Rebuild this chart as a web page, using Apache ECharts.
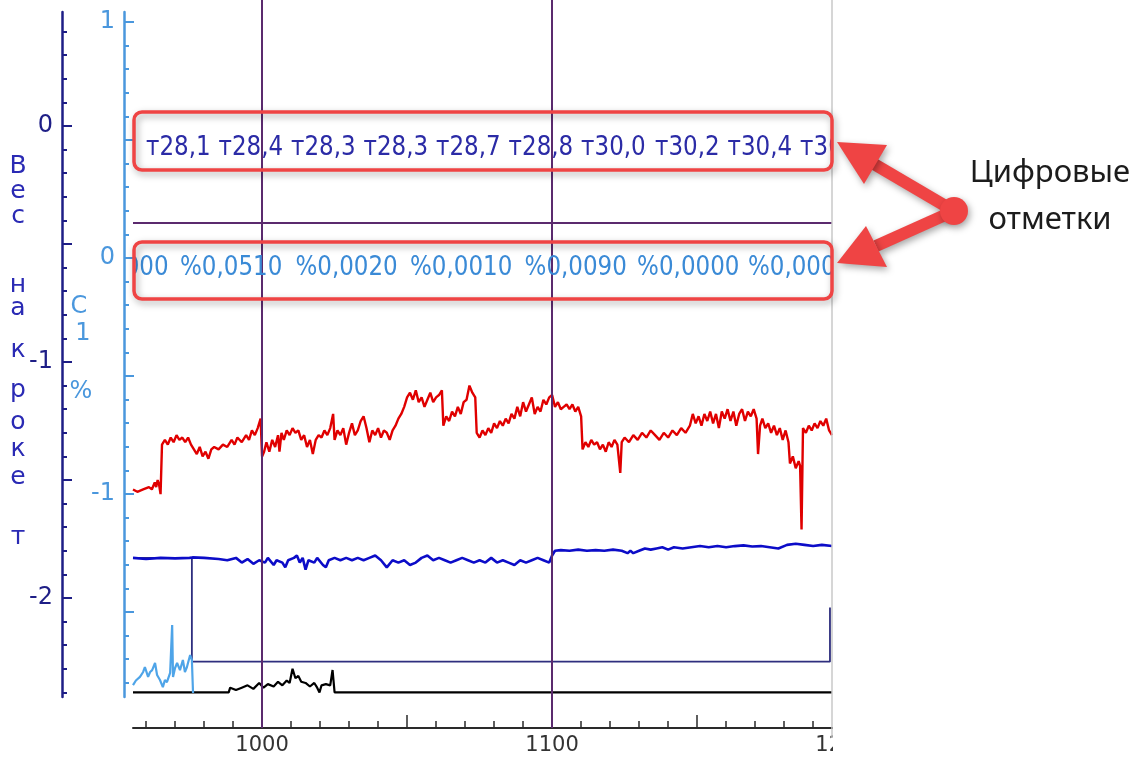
<!DOCTYPE html>
<html>
<head>
<meta charset="utf-8">
<script src="https://cdn.jsdelivr.net/npm/echarts@6/dist/echarts.min.js"></script>
<style>
html, body { margin: 0; padding: 0; background: #fff; }
#main { width: 1139px; height: 758px; }
</style>
</head>
<body>
<div id="main"></div>
<script>
// глубина (ось X) и значения кривых
var depthMin = 955.5, depthMax = 1196.5, depthAxisMax = 1200;

var redLine = [
  [955.5,-1.54],[957,-1.55],[959,-1.54],[961,-1.53],[962,-1.54],[963,-1.51],[963.5,-1.53],[964,-1.50],[964.5,-1.52],[965,-1.56],
  [965.5,-1.35],[966.5,-1.33],[967.5,-1.35],[968.5,-1.32],[969.5,-1.34],[970.5,-1.31],[971.5,-1.33],[972.5,-1.32],[973.5,-1.34],[974.5,-1.32],
  [975.5,-1.35],[976.5,-1.37],[977.5,-1.39],[978.5,-1.36],[979.5,-1.40],[980.5,-1.38],[981.5,-1.41],[982.5,-1.37],[983.5,-1.36],[985,-1.37],
  [986.5,-1.35],[988,-1.36],[989.5,-1.33],[990.5,-1.35],[991.5,-1.32],[993,-1.34],[994.5,-1.31],[995.5,-1.33],[996.5,-1.29],[997.5,-1.31],
  [998.5,-1.28],[999.5,-1.24],[1000,-1.40],[1000.7,-1.38],[1001.5,-1.34],[1002.5,-1.38],[1003.5,-1.33],[1004.5,-1.36],[1005.5,-1.31],[1006,-1.38],
  [1006.7,-1.30],[1007.5,-1.33],[1008.5,-1.29],[1009.5,-1.31],[1010.5,-1.28],[1011.5,-1.30],[1012.5,-1.29],[1013.5,-1.33],[1014.5,-1.31],[1015.5,-1.36],
  [1016.5,-1.33],[1017.5,-1.39],[1018.5,-1.33],[1019.5,-1.31],[1020.5,-1.32],[1021.5,-1.29],[1022.5,-1.31],[1023.5,-1.28],[1024.5,-1.22],[1025,-1.33],
  [1026,-1.29],[1027,-1.31],[1028,-1.28],[1029,-1.35],[1030,-1.30],[1031,-1.26],[1032,-1.31],[1033,-1.29],[1034,-1.25],[1035,-1.23],
  [1036,-1.28],[1037,-1.34],[1038,-1.29],[1039,-1.31],[1040,-1.28],[1041,-1.32],[1042,-1.29],[1043,-1.30],[1044,-1.33],[1045,-1.29],
  [1046,-1.27],[1047,-1.24],[1048,-1.22],[1049,-1.19],[1050,-1.15],[1051,-1.13],[1052,-1.16],[1053,-1.12],[1054,-1.17],[1055,-1.15],
  [1056,-1.19],[1057,-1.16],[1058,-1.13],[1059,-1.17],[1060,-1.15],[1061,-1.14],[1062,-1.12],[1062.5,-1.27],[1063.5,-1.23],[1064.5,-1.25],
  [1065.5,-1.21],[1066.5,-1.23],[1067.5,-1.19],[1068.5,-1.22],[1069.5,-1.17],[1070.5,-1.16],[1071.5,-1.10],[1072.5,-1.13],[1073.5,-1.15],[1074,-1.30],
  [1075,-1.32],[1076,-1.29],[1077,-1.31],[1078,-1.28],[1079,-1.30],[1080,-1.26],[1081,-1.28],[1082,-1.25],[1083,-1.27],[1084,-1.24],
  [1085,-1.26],[1086,-1.22],[1087,-1.24],[1088,-1.19],[1089,-1.23],[1090,-1.17],[1091,-1.21],[1092,-1.18],[1093,-1.15],[1094,-1.22],
  [1095,-1.19],[1096,-1.21],[1097,-1.16],[1098,-1.18],[1099,-1.15],[1100,-1.14],[1101,-1.19],[1102,-1.17],[1103,-1.20],[1104,-1.19],
  [1105,-1.18],[1106,-1.20],[1107,-1.18],[1108,-1.21],[1109,-1.19],[1110,-1.23],[1110.5,-1.37],[1111.5,-1.34],[1112.5,-1.36],[1113.5,-1.33],
  [1114.5,-1.35],[1115.5,-1.34],[1116.5,-1.37],[1117.5,-1.35],[1118.5,-1.38],[1119.5,-1.34],[1120.5,-1.36],[1121.5,-1.33],[1122.5,-1.35],[1123.5,-1.47],
  [1124,-1.34],[1125,-1.32],[1126.5,-1.34],[1128,-1.31],[1129.5,-1.33],[1131,-1.30],[1132.5,-1.32],[1134,-1.29],[1135.5,-1.31],[1137,-1.33],
  [1138.5,-1.30],[1140,-1.32],[1141.5,-1.29],[1143,-1.31],[1144.5,-1.28],[1146,-1.30],[1147.5,-1.27],[1148.5,-1.22],[1149.5,-1.26],[1150.5,-1.23],
  [1151.5,-1.27],[1152.5,-1.22],[1153.5,-1.25],[1154.5,-1.21],[1155.5,-1.26],[1156.5,-1.22],[1157.5,-1.28],[1158.5,-1.21],[1159.5,-1.24],[1160.5,-1.20],
  [1161.5,-1.25],[1162.5,-1.21],[1163.5,-1.27],[1164.5,-1.22],[1165.5,-1.20],[1166.5,-1.25],[1167.5,-1.21],[1168.5,-1.23],[1169.5,-1.20],[1170.5,-1.24],
  [1171,-1.39],[1171.7,-1.27],[1172.5,-1.24],[1173.5,-1.28],[1174.5,-1.26],[1175.5,-1.30],[1176.5,-1.27],[1177.5,-1.31],[1178.5,-1.28],[1179.5,-1.33],
  [1180.5,-1.29],[1181.5,-1.34],[1182,-1.43],[1183,-1.40],[1184,-1.45],[1185,-1.42],[1185.5,-1.44],[1186,-1.71],[1186.5,-1.28],[1187.5,-1.30],
  [1188.5,-1.27],[1189.5,-1.29],[1190.5,-1.26],[1191.5,-1.28],[1192.5,-1.25],[1193.5,-1.27],[1194.5,-1.24],[1195.5,-1.29],[1196.5,-1.31]
];

var blueLine = [
  [955.5,-1.83],[960,-1.835],[965,-1.83],[970,-1.832],[975,-1.83],[976,-1.828],[980,-1.83],[985,-1.835],[988,-1.84],[991,-1.83],
  [993,-1.85],[995,-1.835],[997,-1.855],[999,-1.84],[1001,-1.85],[1002,-1.83],[1004,-1.86],[1005,-1.84],[1007,-1.85],[1008,-1.87],
  [1009,-1.84],[1011,-1.83],[1012,-1.82],[1013,-1.85],[1014,-1.83],[1015,-1.88],[1016,-1.84],[1018,-1.85],[1019,-1.83],[1021,-1.86],
  [1022,-1.87],[1023,-1.84],[1025,-1.83],[1027,-1.84],[1029,-1.83],[1031,-1.84],[1033,-1.83],[1035,-1.84],[1037,-1.83],[1039,-1.82],
  [1041,-1.84],[1043,-1.87],[1045,-1.84],[1047,-1.85],[1049,-1.84],[1051,-1.86],[1053,-1.85],[1055,-1.83],[1057,-1.82],[1059,-1.84],
  [1061,-1.83],[1063,-1.84],[1065,-1.85],[1067,-1.84],[1069,-1.83],[1071,-1.84],[1073,-1.85],[1075,-1.84],[1077,-1.85],[1079,-1.83],
  [1081,-1.85],[1083,-1.84],[1085,-1.85],[1087,-1.86],[1089,-1.84],[1091,-1.85],[1093,-1.84],[1095,-1.83],[1097,-1.84],[1099,-1.85],
  [1100,-1.82],[1101,-1.80],[1103,-1.797],[1106,-1.80],[1109,-1.795],[1112,-1.80],[1115,-1.797],[1118,-1.80],[1121,-1.795],[1124,-1.80],
  [1126,-1.81],[1127,-1.80],[1128,-1.81],[1130,-1.80],[1132,-1.79],[1134,-1.795],[1136,-1.79],[1138,-1.785],[1140,-1.795],[1142,-1.785],
  [1145,-1.79],[1148,-1.785],[1151,-1.78],[1154,-1.785],[1157,-1.78],[1160,-1.785],[1163,-1.78],[1166,-1.777],[1169,-1.782],[1172,-1.78],
  [1175,-1.785],[1178,-1.79],[1181,-1.775],[1184,-1.77],[1187,-1.775],[1190,-1.78],[1193,-1.775],[1196.5,-1.78]
];

var navyStep = [[955.5,-1.83],[975.8,-1.83],[975.8,-2.27],[1195.8,-2.27],[1195.8,-2.04]];

// кривая С1 % (голубая шкала)
var c1Line = [
  [955.5,-1.81],[956.5,-1.79],[957.9,-1.775],[959,-1.754],[959.6,-1.733],[960.7,-1.775],[961.4,-1.754],[962.1,-1.746],[963.1,-1.716],[963.8,-1.767],
  [964.8,-1.788],[965.8,-1.818],[966.5,-1.788],[967.2,-1.797],[968.3,-1.758],[969,-1.555],[969.3,-1.775],[970,-1.737],[970.7,-1.716],[971.7,-1.746],
  [972.7,-1.703],[973.4,-1.754],[974.1,-1.733],[975.2,-1.682],[975.8,-1.703],[976.2,-1.843]
];

var blackLine = [
  [955.5,-2.40],[988.5,-2.40],[989,-2.38],[991,-2.39],[993,-2.38],[995,-2.37],[997,-2.385],[999,-2.36],[1000.5,-2.38],[1002,-2.365],
  [1004,-2.375],[1005.5,-2.355],[1007,-2.37],[1008.5,-2.35],[1009.5,-2.36],[1010.5,-2.30],[1011.5,-2.34],[1012.5,-2.33],[1013.5,-2.355],[1015,-2.36],
  [1016.5,-2.375],[1018,-2.36],[1019,-2.38],[1019.8,-2.40],[1020.5,-2.37],[1022,-2.365],[1023.5,-2.37],[1024.3,-2.305],[1025,-2.40],[1196.5,-2.40]
];

// цифровые отметки
var marksTDepth = [960, 985, 1010, 1035, 1060, 1085, 1110, 1135.5, 1160.5, 1185.5];
var marksTText = ['т28,1', 'т28,4', 'т28,3', 'т28,3', 'т28,7', 'т28,8', 'т30,0', 'т30,2', 'т30,4', 'т30,5'];
var marksCDepth = [932.5, 971.7, 1011.5, 1051, 1090.5, 1129.3, 1167.5];
var marksCText = ['%0,0000', '%0,0510', '%0,0020', '%0,0010', '%0,0090', '%0,0000', '%0,0000'];

var depthGridLines = [1000, 1100];
var depthLabels = [1000, 1100, 1200];
var depthTicksMinor = [960,970,980,990,1010,1020,1030,1040,1060,1070,1080,1090,1110,1120,1130,1140,1160,1170,1180,1190];
var depthTicksMajor = [1000, 1050, 1100, 1150, 1200];

var weightLabels = [0, -1, -2];
var weightTicksMajor = [0, -0.5, -1, -1.5, -2];
var weightTicksMinor = [0.4,0.3,0.2,0.1,-0.1,-0.2,-0.3,-0.4,-0.6,-0.7,-0.8,-0.9,-1.1,-1.2,-1.3,-1.4,-1.6,-1.7,-1.8,-1.9,-2.1,-2.2,-2.3,-2.4];
var c1Labels = [1, 0, -1];
var c1TicksMajor = [1, 0.5, 0, -0.5, -1, -1.5];
var c1TicksMinor = [0.9,0.8,0.7,0.6,0.4,0.3,0.2,0.1,-0.1,-0.2,-0.3,-0.4,-0.6,-0.7,-0.8,-0.9,-1.1,-1.2,-1.3,-1.4,-1.6,-1.7,-1.8];

var separatorLevel = -0.415;   // горизонтальная линия между строками отметок
var rowTLevel = -0.093;        // строка "т" по шкале веса
var rowCLevel = -0.042;        // строка "%" по шкале С1

var navy = '#1e1e86';
var light = '#4a97dd';
var purple = '#5b2a6e';
var red = '#ef4444';

var chart = echarts.init(document.getElementById('main'));

function textRow(depths, texts, yIdx, level, color) {
    return {
        type: 'custom',
        xAxisIndex: 0,
        yAxisIndex: yIdx,
        clip: true,
        silent: true,
        z: 5,
        data: depths.map(function (d, i) { return [d, level, i]; }),
        renderItem: function (params, api) {
            var p = api.coord([api.value(0), api.value(1)]);
            return {
                type: 'text',
                x: p[0],
                y: p[1],
                scaleY: 1.15,
                style: {
                    text: texts[api.value(2)],
                    fill: color,
                    font: '23px "DejaVu Sans"',
                    align: 'left',
                    verticalAlign: 'middle'
                }
            };
        }
    };
}

function sideAxis(offset, min, max, color, ticks, len, labels, showLine) {
    return {
        type: 'value',
        gridIndex: 0,
        position: 'left',
        offset: offset,
        min: min,
        max: max,
        axisLine: { show: showLine, onZero: false, lineStyle: { color: color, width: 2.5 } },
        axisTick: { show: true, inside: true, length: len, customValues: ticks, lineStyle: { color: color, width: 2 } },
        axisLabel: labels ? {
            show: true, customValues: labels, color: color, fontSize: 24,
            fontFamily: 'DejaVu Sans', margin: 9
        } : { show: false },
        splitLine: { show: false }
    };
}

var letters1 = [['В',166],['е',191],['с',216],['н',285],['а',308],['к',350],['р',390],['о',422],['к',449],['е',477],['т',537]];
var letters2 = [['С',79,307],['1',83,334],['%',81,392]];

var graphics = [];
letters1.forEach(function (l) {
    graphics.push({ type: 'text', x: 18, y: l[1], z: 20, style: { text: l[0], fill: '#2a2ab4', font: '25px "DejaVu Sans"', align: 'center', verticalAlign: 'middle' } });
});
letters2.forEach(function (l) {
    graphics.push({ type: 'text', x: l[1], y: l[2], z: 20, style: { text: l[0], fill: light, font: '24px "DejaVu Sans"', align: 'center', verticalAlign: 'middle' } });
});
// маска справа, обрезающая подпись 1200
graphics.push({ type: 'rect', z: 30, shape: { x: 833, y: 690, width: 80, height: 68 }, style: { fill: '#fff' } });
// правая рамка
graphics.push({ type: 'line', z: 31, shape: { x1: 832, y1: 0, x2: 832, y2: 738 }, style: { stroke: '#c9c9c9', lineWidth: 1.5 } });

var shadow = { shadowBlur: 7, shadowColor: 'rgba(0,0,0,0.35)', shadowOffsetX: 2, shadowOffsetY: 3 };
[[112, 58], [242, 57]].forEach(function (b) {
    graphics.push({
        type: 'rect', z: 40,
        shape: { x: 134, y: b[0], width: 698, height: b[1], r: 8 },
        style: Object.assign({ fill: 'none', stroke: red, lineWidth: 3.5 }, shadow)
    });
});
graphics.push({ type: 'polyline', z: 41, shape: { points: [[954, 211], [874, 164]] }, style: Object.assign({ stroke: red, lineWidth: 12, fill: null }, shadow) });
graphics.push({ type: 'polyline', z: 41, shape: { points: [[954, 211], [876, 246]] }, style: Object.assign({ stroke: red, lineWidth: 12, fill: null }, shadow) });
graphics.push({ type: 'polygon', z: 42, shape: { points: [[837, 142], [887, 145], [864, 184]] }, style: Object.assign({ fill: red }, shadow) });
graphics.push({ type: 'polygon', z: 42, shape: { points: [[837, 263], [866, 226], [887, 267]] }, style: Object.assign({ fill: red }, shadow) });
graphics.push({ type: 'circle', z: 43, shape: { cx: 954, cy: 211, r: 14 }, style: Object.assign({ fill: red }, shadow) });
graphics.push({ type: 'text', z: 44, x: 1050, y: 173, style: { text: 'Цифровые', fill: '#1c1c1c', font: '31px "Noto Sans"', align: 'center', verticalAlign: 'middle', shadowBlur: 4, shadowColor: 'rgba(0,0,0,0.3)', shadowOffsetY: 2 } });
graphics.push({ type: 'text', z: 44, x: 1050, y: 220, style: { text: 'отметки', fill: '#1c1c1c', font: '31px "Noto Sans"', align: 'center', verticalAlign: 'middle', shadowBlur: 4, shadowColor: 'rgba(0,0,0,0.3)', shadowOffsetY: 2 } });

var option = {
    animation: false,
    backgroundColor: '#fff',
    grid: [
        { left: 133, right: 1139 - 832, top: 12, bottom: 758 - 697 },
        { left: 133, right: 1139 - 842, top: 0, bottom: 30 }
    ],
    xAxis: [
        { type: 'value', gridIndex: 0, min: depthMin, max: depthMax, show: false },
        {
            type: 'value', gridIndex: 1, min: depthMin, max: depthAxisMax, position: 'bottom',
            axisLine: { show: true, onZero: false, lineStyle: { color: '#2a2a2a', width: 2 } },
            axisTick: { show: true, inside: true, length: 7, customValues: depthTicksMinor, lineStyle: { color: '#2a2a2a', width: 1.5 } },
            axisLabel: {
                show: true, customValues: depthLabels, color: '#333', fontSize: 21, fontFamily: 'DejaVu Sans', margin: 7,
                formatter: function (v) { return String(v); }
            },
            splitLine: { show: false }
        },
        {
            type: 'value', gridIndex: 1, min: depthMin, max: depthAxisMax, position: 'bottom',
            axisLine: { show: false, onZero: false },
            axisTick: { show: true, inside: true, length: 13, customValues: depthTicksMajor, lineStyle: { color: '#2a2a2a', width: 1.5 } },
            axisLabel: { show: false },
            splitLine: { show: false }
        }
    ],
    yAxis: [
        sideAxis(71, -2.4195, 0.4831, navy, weightTicksMinor, 5, weightLabels, true),
        sideAxis(71, -2.4195, 0.4831, navy, weightTicksMajor, 10, null, false),
        sideAxis(9, -1.860, 1.0424, light, c1TicksMinor, 5, c1Labels, true),
        sideAxis(9, -1.860, 1.0424, light, c1TicksMajor, 10, null, false),
        { type: 'value', gridIndex: 1, min: 0, max: 1, show: false }
    ],
    graphic: graphics,
    series: [
        {
            type: 'line', xAxisIndex: 1, yAxisIndex: 4, data: [], silent: true,
            markLine: {
                symbol: 'none', silent: true, label: { show: false },
                lineStyle: { color: purple, width: 2, type: 'solid' },
                data: depthGridLines.map(function (d) { return { xAxis: d }; })
            }
        },
        {
            name: 'разделитель', type: 'line', xAxisIndex: 0, yAxisIndex: 0, data: [], silent: true,
            markLine: {
                symbol: 'none', silent: true, label: { show: false },
                lineStyle: { color: purple, width: 2, type: 'solid' },
                data: [{ yAxis: separatorLevel }]
            }
        },
        { type: 'line', xAxisIndex: 0, yAxisIndex: 0, data: navyStep, showSymbol: false, silent: true, lineStyle: { color: '#2e2e7e', width: 1.8 } },
        { type: 'line', xAxisIndex: 0, yAxisIndex: 0, data: blackLine, showSymbol: false, silent: true, lineStyle: { color: '#000', width: 2.2 } },
        { type: 'line', xAxisIndex: 0, yAxisIndex: 2, data: c1Line, showSymbol: false, silent: true, lineStyle: { color: '#4ea4e8', width: 2.2 } },
        { type: 'line', xAxisIndex: 0, yAxisIndex: 0, data: blueLine, showSymbol: false, silent: true, lineStyle: { color: '#0c0cc8', width: 2.6 } },
        { type: 'line', xAxisIndex: 0, yAxisIndex: 0, data: redLine, showSymbol: false, silent: true, lineStyle: { color: '#e00000', width: 2.4 } },
        textRow(marksTDepth, marksTText, 0, rowTLevel, '#2b2ba6'),
        textRow(marksCDepth, marksCText, 2, rowCLevel, '#3a8ad6')
    ]
};

chart.setOption(option);
</script>
</body>
</html>
